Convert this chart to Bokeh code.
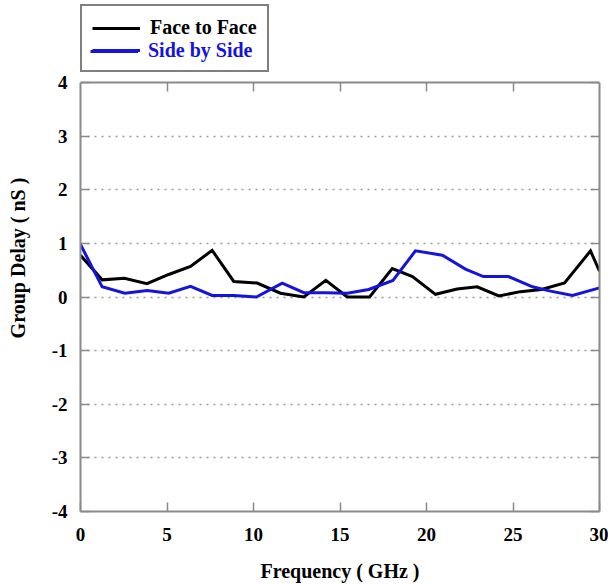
from bokeh.plotting import figure
from bokeh.models import Range1d, FixedTicker, LinearAxis, Legend, LegendItem, Span
from bokeh.core.properties import value
from bokeh.embed import file_html
from bokeh.resources import INLINE

# Group delay of the two antenna arrangements versus frequency
face_freq = [0.0, 1.25, 2.54, 3.84, 5.10, 6.36, 7.61, 8.86, 10.21, 11.56, 12.91,
             14.18, 15.42, 16.71, 18.02, 19.19, 20.52, 21.77, 22.93, 24.18,
             25.43, 26.65, 27.98, 29.48, 30.0]
face_delay = [0.78, 0.32, 0.35, 0.25, 0.42, 0.57, 0.87, 0.29, 0.26, 0.07, 0.0,
              0.31, 0.0, 0.0, 0.53, 0.38, 0.05, 0.15, 0.19, 0.02,
              0.10, 0.14, 0.26, 0.86, 0.48]

side_freq = [0.0, 1.25, 2.56, 3.86, 5.10, 6.36, 7.61, 8.86, 10.17, 11.66, 12.91,
             14.16, 15.42, 16.66, 18.06, 19.36, 20.92, 22.25, 23.29, 24.74,
             26.13, 27.17, 28.44, 30.0]
side_delay = [0.98, 0.19, 0.07, 0.12, 0.07, 0.20, 0.03, 0.03, 0.0, 0.26, 0.08,
              0.08, 0.07, 0.14, 0.31, 0.86, 0.78, 0.52, 0.38, 0.38,
              0.19, 0.11, 0.03, 0.17]

x_ticks = [0, 5, 10, 15, 20, 25, 30]
y_ticks = [-4, -3, -2, -1, 0, 1, 2, 3, 4]
grid_levels = [-3, -2, -1, 0, 1, 2, 3]
series_names = ["Face to Face", "Side by Side"]

X_MIN, X_MAX = 0, 30
Y_MIN, Y_MAX = -4, 4

FONT = "Liberation Serif"
FRAME_GREY = "#8a8a8a"
BLUE = "#1414dc"

# layout in pixels: the plotting box is 429 px tall; the frame also holds a
# 78 px strip above it where the legend sits
BOX_PX = 429
STRIP_PX = 78
TICK_PX = 9
units_per_px = (Y_MAX - Y_MIN) / BOX_PX
y_top = Y_MAX + STRIP_PX * units_per_px

p = figure(
    width=608, height=585,
    min_border_left=80, min_border_right=9,
    min_border_top=4, min_border_bottom=74,
    x_range=Range1d(X_MIN, X_MAX), y_range=Range1d(Y_MIN, y_top),
    output_backend="svg", toolbar_location=None,
    background_fill_color="white", border_fill_color="white",
)
p.outline_line_color = None


def style_axis(ax):
    ax.axis_line_color = FRAME_GREY
    ax.axis_line_width = 2
    ax.major_tick_in = TICK_PX
    ax.major_tick_out = 0
    ax.major_tick_line_color = FRAME_GREY
    ax.major_tick_line_width = 1.5
    ax.minor_tick_line_color = None


for ax in (p.xaxis[0], p.yaxis[0]):
    style_axis(ax)
    ax.major_label_text_font = FONT
    ax.major_label_text_font_style = "bold"
    ax.major_label_text_font_size = "19px"
    ax.major_label_text_color = "black"
    ax.axis_label_text_font = FONT
    ax.axis_label_text_font_style = "bold"
    ax.axis_label_text_font_size = "20px"
    ax.axis_label_text_color = "black"

p.xaxis[0].ticker = FixedTicker(ticks=x_ticks)
p.yaxis[0].ticker = FixedTicker(ticks=y_ticks)
p.yaxis[0].bounds = (Y_MIN, Y_MAX)
# plain hyphen for negative numbers
p.yaxis[0].major_label_overrides = {t: str(t) for t in y_ticks}
p.xaxis[0].axis_label = "Frequency ( GHz )"
p.yaxis[0].axis_label = "Group Delay ( nS )"
p.xaxis[0].major_label_standoff = 16
p.xaxis[0].axis_label_standoff = 16
p.yaxis[0].major_label_standoff = 13
p.yaxis[0].axis_label_standoff = 20

# right edge of the box, ticks only
right_axis = LinearAxis(ticker=FixedTicker(ticks=y_ticks), bounds=(Y_MIN, Y_MAX),
                        major_label_overrides={t: "" for t in y_ticks})
style_axis(right_axis)
right_axis.major_label_standoff = 0
p.add_layout(right_axis, "right")

# top edge of the box and its short inward ticks
p.add_layout(Span(location=Y_MAX, dimension="width",
                  line_color=FRAME_GREY, line_width=2))
p.xgrid.ticker = FixedTicker(ticks=x_ticks)
p.xgrid.cross_bounds = (Y_MAX - TICK_PX * units_per_px, Y_MAX)
p.xgrid.grid_line_color = FRAME_GREY
p.xgrid.grid_line_width = 1.5

# dotted horizontal grid
p.ygrid.ticker = FixedTicker(ticks=grid_levels)
p.ygrid.grid_line_color = "#9a9a9a"
p.ygrid.grid_line_dash = "2 5"
p.ygrid.grid_line_width = 1.5

r_face = p.line(face_freq, face_delay, line_color="black", line_width=3, line_join="miter")
r_side = p.line(side_freq, side_delay, line_color=BLUE, line_width=3, line_join="miter")

# boxed legend above the box: black caption on row one, blue caption laid over row two
legend_style = dict(
    orientation="vertical", margin=0,
    glyph_width=48, glyph_height=20, label_standoff=10, label_height=20,
    label_text_font=FONT, label_text_font_style="bold", label_text_font_size="20px",
)
legend_box = Legend(
    items=[LegendItem(label=series_names[0], renderers=[r_face]),
           LegendItem(label=value(""), renderers=[r_side])],
    location=(0, BOX_PX + 10), padding=10, spacing=1,
    label_text_color="black",
    border_line_color="black", border_line_width=2,
    background_fill_color="white", background_fill_alpha=1.0,
    **legend_style,
)
legend_blue = Legend(
    items=[LegendItem(label=series_names[1], renderers=[r_side])],
    location=(10, BOX_PX + 20), padding=0, spacing=0,
    label_text_color=BLUE,
    border_line_color=None, background_fill_alpha=0.0,
    **legend_style,
)
p.add_layout(legend_box, "center")
p.add_layout(legend_blue, "center")

open("out.html", "w").write(file_html(p, INLINE))
